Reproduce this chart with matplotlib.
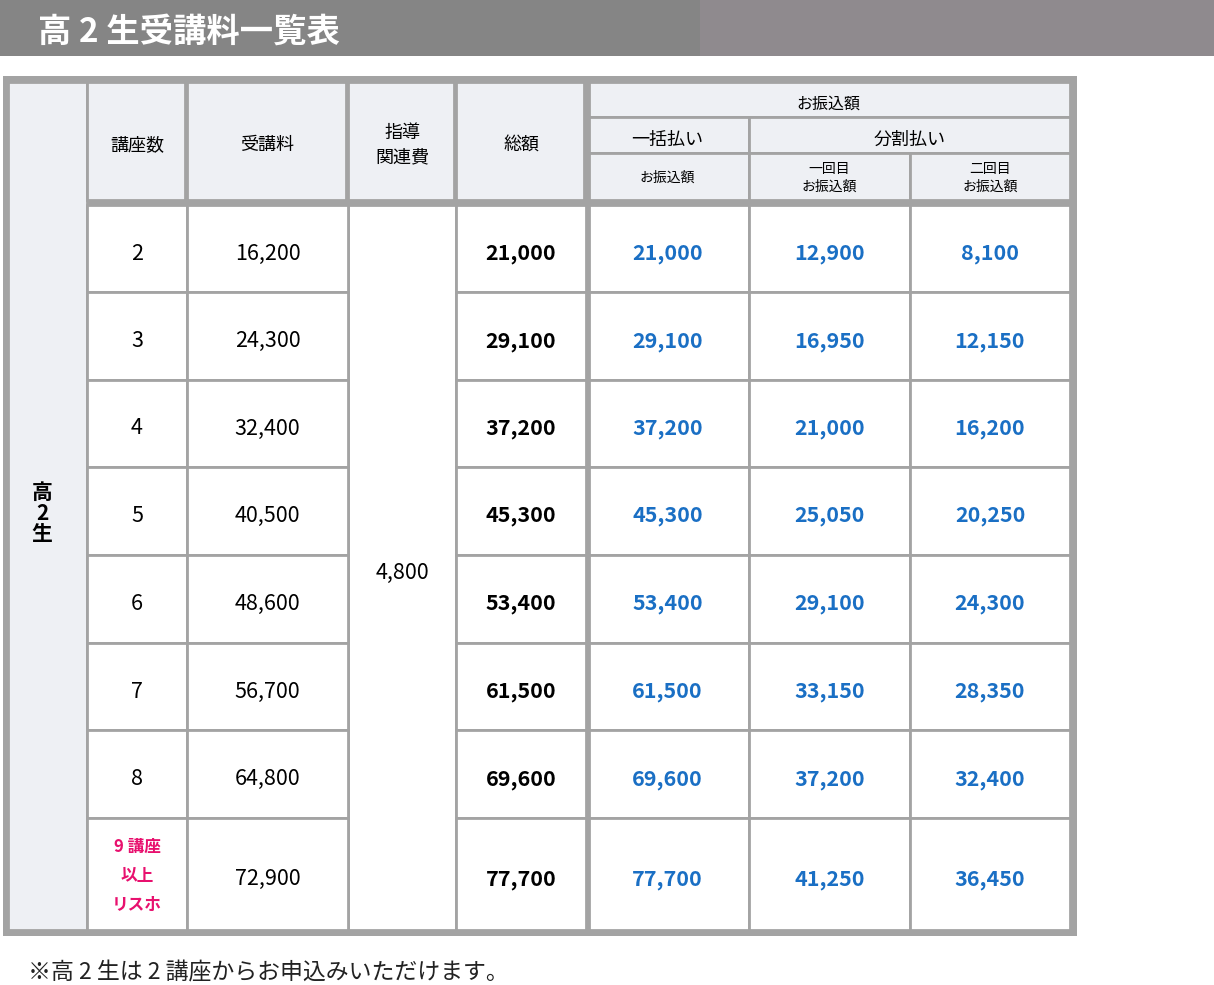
import matplotlib.pyplot as plt
from matplotlib.patches import Rectangle

plt.rcParams['font.family'] = 'Noto Sans CJK JP'

courses = ['2', '3', '4', '5', '6', '7', '8', '9 講座\n以上\nリスホ']
tuition = ['16,200', '24,300', '32,400', '40,500', '48,600', '56,700', '64,800', '72,900']
guidance_fee = '4,800'
total = ['21,000', '29,100', '37,200', '45,300', '53,400', '61,500', '69,600', '77,700']
lump = ['21,000', '29,100', '37,200', '45,300', '53,400', '61,500', '69,600', '77,700']
first = ['12,900', '16,950', '21,000', '25,050', '29,100', '33,150', '37,200', '41,250']
second = ['8,100', '12,150', '16,200', '20,250', '24,300', '28,350', '32,400', '36,450']

W, H = 1214, 985
fig = plt.figure(figsize=(W / 100, H / 100), dpi=100)
ax = fig.add_axes([0, 0, 1, 1])
ax.set_xlim(0, W)
ax.set_ylim(H, 0)
ax.axis('off')

grid = '#a3a3a3'
head = '#eef0f4'
blue = '#1a6fc4'
DY = 5  # CJK font sits a little high when centred


def cell(x0, y0, x1, y1, fill='white'):
    ax.add_patch(Rectangle((x0, y0), x1 - x0, y1 - y0, facecolor=fill,
                           edgecolor=grid, linewidth=2))


def text(x, y, s, **kw):
    kw.setdefault('fontsize', 13)
    ax.text(x, y + DY, s, ha='center', va='center', **kw)


# title bar
ax.add_patch(Rectangle((0, 0), 700, 56, facecolor='#858585', edgecolor='none'))
ax.add_patch(Rectangle((700, 0), W - 700, 56, facecolor='#8f8a8e', edgecolor='none'))
ax.text(38, 32, '高 2 生受講料一覧表', color='white', fontsize=24,
        fontweight='bold', va='center')

# table frame
ax.add_patch(Rectangle((3, 76), 1074, 860, facecolor=grid, edgecolor='none'))

cols = [8, 87, 187, 348, 456, 586, 749, 910, 1070]
rows = [205, 292, 380, 467, 555, 643, 730, 818, 930]

# header
cell(cols[0], 82, cols[1], rows[-1], head)
text(42, 508, '高\n2\n生', fontsize=15, fontweight='bold', linespacing=1.0)
for i, lab in enumerate(['講座数', '受講料', '指導\n関連費', '総額']):
    cell(cols[i + 1], 82, cols[i + 2] - 2, 200, head)
    text((cols[i + 1] + cols[i + 2]) / 2, 140, lab, linespacing=1.5)
cell(cols[5] + 3, 82, cols[8], 117, head)
text((cols[5] + cols[8]) / 2, 99, 'お振込額', fontsize=11.5)
cell(cols[5] + 3, 117, cols[6], 153, head)
text((cols[5] + cols[6]) / 2, 135, '一括払い')
cell(cols[6], 117, cols[8], 153, head)
text((cols[6] + cols[8]) / 2, 135, '分割払い')
for i, lab in enumerate(['お振込額', '一回目\nお振込額', '二回目\nお振込額']):
    cell(cols[5 + i] + (3 if i == 0 else 0), 153, cols[6 + i], 200, head)
    text((cols[5 + i] + cols[6 + i]) / 2, 173, lab, fontsize=10, linespacing=1.3)

# body
cell(cols[3], rows[0], cols[4], rows[-1])
text((cols[3] + cols[4]) / 2, (rows[0] + rows[-1]) / 2, guidance_fee, fontsize=15.5)
for r in range(8):
    y0, y1 = rows[r], rows[r + 1]
    yc = (y0 + y1) / 2
    for c in [1, 2, 4, 5, 6, 7]:
        cell(cols[c] + (3 if c == 5 else 0), y0, cols[c + 1], y1)
    if r == 7:
        text(137, yc - 3, courses[r], fontsize=12, color='#e8106e',
             fontweight='bold', linespacing=1.8)
    else:
        text(137, yc, courses[r], fontsize=15.5)
    text((cols[2] + cols[3]) / 2, yc, tuition[r], fontsize=15.5)
    text((cols[4] + cols[5]) / 2, yc, total[r], fontsize=15.5, fontweight='bold')
    for c, vals in zip([5, 6, 7], [lump, first, second]):
        text((cols[c] + cols[c + 1]) / 2, yc, vals[r], fontsize=15.5,
             fontweight='bold', color=blue)

ax.text(28, 973, '※高 2 生は 2 講座からお申込みいただけます。', fontsize=16.5,
        va='center', color='#222222')

fig.savefig('out.png', dpi=100)
